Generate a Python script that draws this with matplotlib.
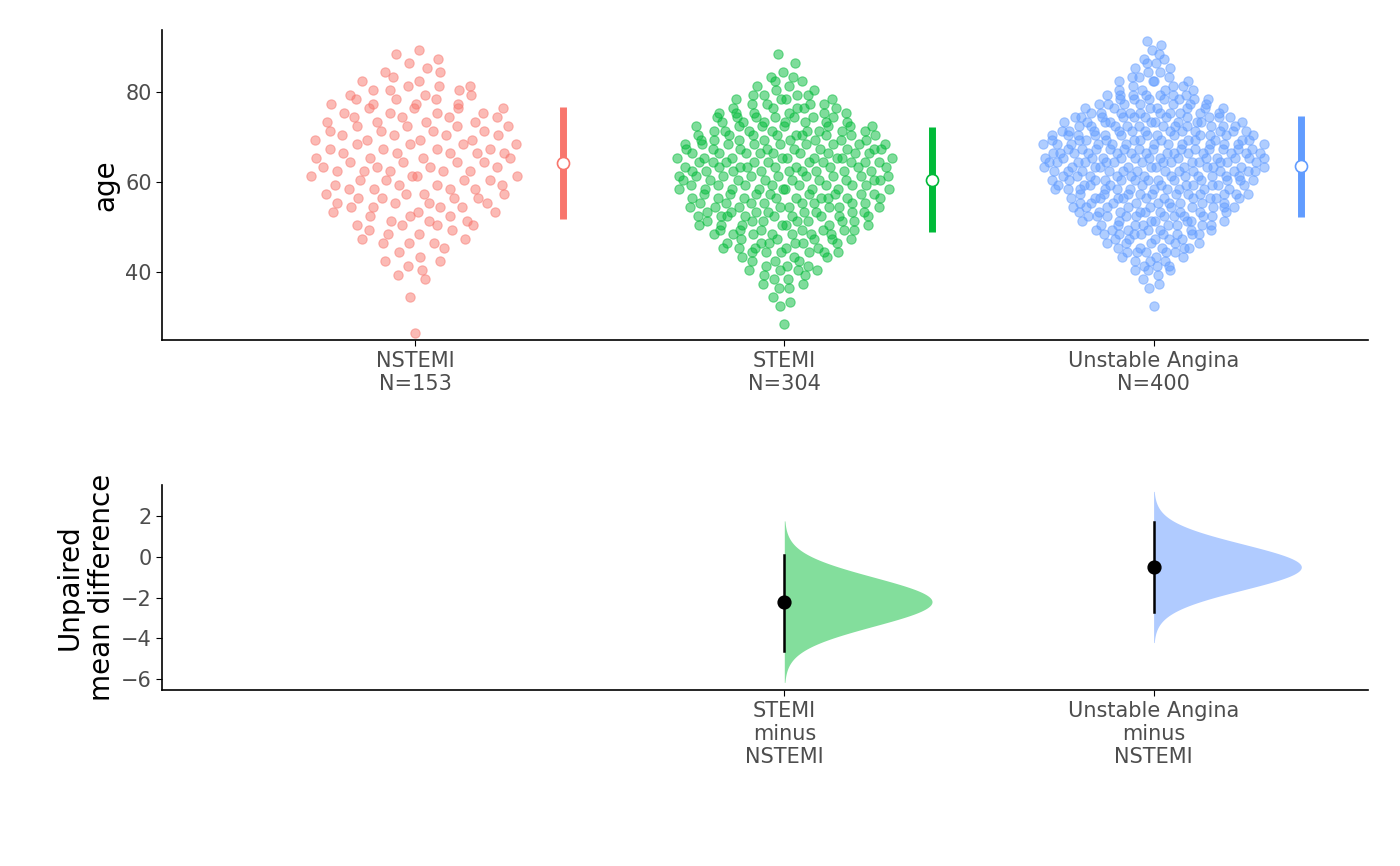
import numpy as np
import matplotlib
matplotlib.use('Agg')
import matplotlib.pyplot as plt

groups = ['NSTEMI', 'STEMI', 'Unstable Angina']
colors = ['#F8766D', '#00BA38', '#619CFF']
light = ['#FFB3AD', '#83DE9C', '#B0CBFF']
nstemi_centres = [28, 32, 36, 40, 44, 48, 52, 56, 60, 64, 68, 72, 76, 80, 84, 88]
nstemi_counts = [1, 0, 1, 4, 5, 9, 13, 16, 16, 17, 17, 16, 16, 12, 6, 4]
stemi_centres = [30, 34, 38, 42, 46, 50, 54, 58, 62, 66, 70, 74, 78, 82, 86, 90]
stemi_counts = [1, 3, 8, 13, 22, 28, 33, 34, 36, 37, 34, 27, 17, 8, 2, 1]
ua_centres = [34, 38, 42, 46, 50, 54, 58, 62, 66, 70, 74, 78, 82, 86, 90]
ua_counts = [1, 4, 12, 20, 30, 38, 44, 50, 55, 50, 42, 28, 14, 8, 4]

# mean differences vs NSTEMI with 95% CI
diff_labels = ['STEMI\nminus\nNSTEMI', 'Unstable Angina\nminus\nNSTEMI']
diff_mean = [-2.2, -0.5]
diff_lo = [-4.6, -2.7]
diff_hi = [0.1, 1.7]


def expand(centres, counts):
    vals = []
    for c, n in zip(centres, counts):
        offs = [-1.5, 0.5, -0.5, 1.5]
        for i in range(n):
            vals.append(c + offs[i % 4])
    return np.array(vals)


ages = [expand(nstemi_centres, nstemi_counts),
        expand(stemi_centres, stemi_counts),
        expand(ua_centres, ua_counts)]


def vdc(n, base=2):
    v, den = 0.0, 1.0
    while n:
        n, r = divmod(n, base)
        den *= base
        v += r / den
    return v


def quasirandom(y, halfwidth):
    # offsets spread by a van der Corput sequence, scaled by a kde of y
    ys = np.sort(y)
    bw = 1.06 * ys.std() * len(ys) ** -0.2
    dens = np.exp(-0.5 * ((ys[:, None] - ys[None, :]) / bw) ** 2).sum(axis=1)
    dens = dens / dens.max()
    xs = np.array([(vdc(i + 1) * 2 - 1) for i in range(len(ys))]) * halfwidth * dens
    return xs, ys


fig = plt.figure(figsize=(14, 8.66), dpi=100)
ax1 = fig.add_axes([0.116, 0.607, 0.861, 0.358])
ax2 = fig.add_axes([0.116, 0.203, 0.861, 0.237])

for i, a in enumerate(ages):
    xo, yv = quasirandom(a, 0.29 + 0.01 * i)
    ax1.scatter(i + 1 + xo, yv, s=45, color=colors[i], alpha=0.5, edgecolors=colors[i], linewidths=0.8)
    m, sd = a.mean(), a.std()
    ax1.plot([i + 1.4, i + 1.4], [m - sd, m + sd], color=colors[i], lw=5, solid_capstyle='butt')
    ax1.scatter([i + 1.4], [m], s=75, color='white', edgecolors=colors[i], linewidths=1.2, zorder=3)

ax1.set_xlim(0.316, 3.58)
ax1.set_ylim(24.9, 93.8)
ax1.set_yticks([40, 60, 80])
ax1.set_xticks([1, 2, 3])
ax1.set_xticklabels([f'{g}\nN={len(a)}' for g, a in zip(groups, ages)])
ax1.set_ylabel('age', fontsize=20)

for j in range(2):
    x0 = j + 2
    sd = (diff_hi[j] - diff_lo[j]) / 3.92
    yy = np.linspace(diff_mean[j] - 3.3 * sd, diff_mean[j] + 3.3 * sd, 300)
    dens = np.exp(-0.5 * ((yy - diff_mean[j]) / sd) ** 2)
    ax2.fill_betweenx(yy, x0, x0 + 0.4 * dens, color=light[j + 1], lw=0)
    ax2.plot([x0, x0], [diff_lo[j], diff_hi[j]], color='black', lw=1.8)
    ax2.scatter([x0], [diff_mean[j]], s=85, color='black', zorder=3)

ax2.set_xlim(0.316, 3.58)
ax2.set_ylim(-6.54, 3.52)
ax2.set_yticks([-6, -4, -2, 0, 2])
ax2.set_xticks([2, 3])
ax2.set_xticklabels(diff_labels)
ax2.set_ylabel('Unpaired\nmean difference', fontsize=20)

for ax in (ax1, ax2):
    for s in ('top', 'right'):
        ax.spines[s].set_visible(False)
    ax.spines['left'].set_linewidth(1.2)
    ax.spines['bottom'].set_linewidth(1.2)
    ax.tick_params(labelsize=15, labelcolor='#4D4D4D', length=4)

fig.savefig('out.png')
